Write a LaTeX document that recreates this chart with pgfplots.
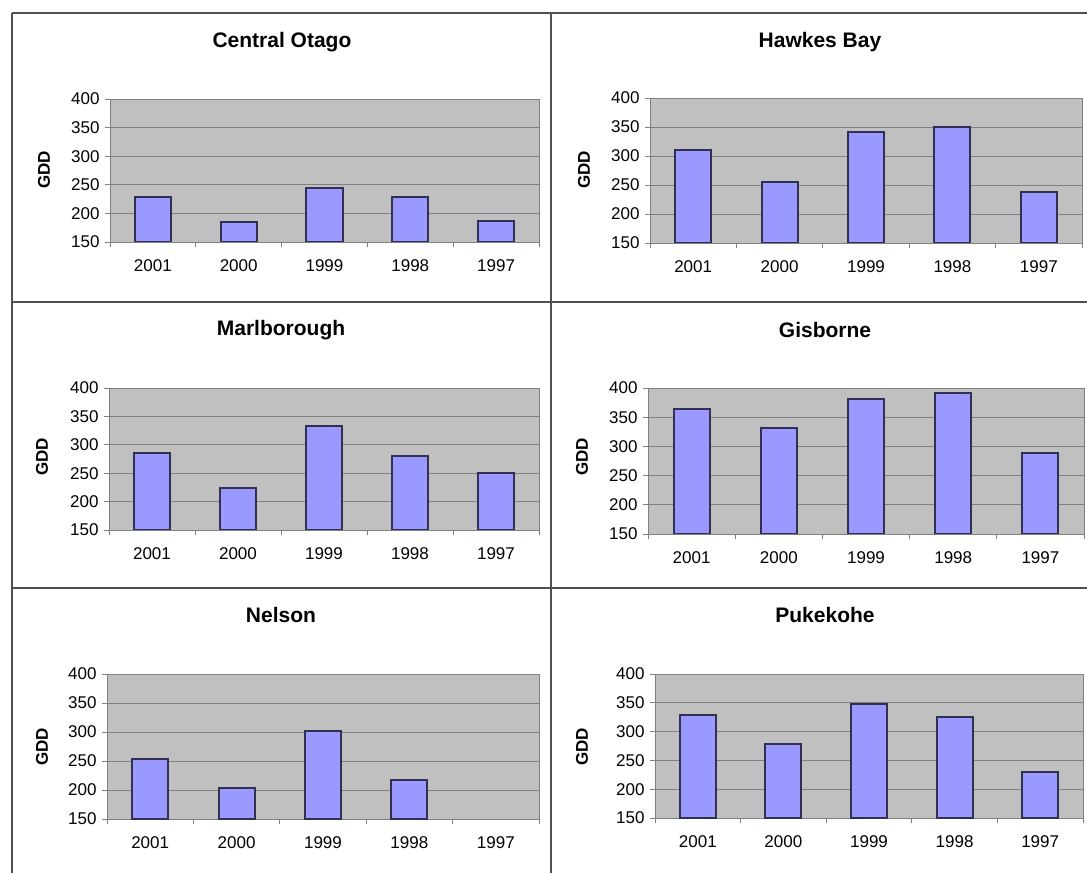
\documentclass[border=0pt]{standalone}
\usepackage{fontspec}
\setmainfont{Liberation Sans}
\usepackage{pgfplots}
\pgfplotsset{compat=1.18}

\definecolor{barfill}{HTML}{9999FF}
\definecolor{baredge}{HTML}{303050}
\definecolor{plotbg}{HTML}{C0C0C0}
\definecolor{gridc}{HTML}{808080}
\definecolor{framec}{HTML}{505050}

\pgfplotsset{
  panel/.style={
    scale only axis,
    anchor=south west,
    ymin=150, ymax=400,
    ytick={150,200,...,400},
    xmin=-0.5, xmax=4.5,
    xtick={0,...,4},
    xticklabels={2001,2000,1999,1998,1997},
    minor xtick={-0.5,0.5,...,4.5},
    major x tick style={draw=none},
    tick align=outside,
    xtick pos=bottom, ytick pos=left,
    major tick length=5pt, minor tick length=5pt,
    ymajorgrids,
    grid style={gridc, line width=0.8pt},
    axis background/.style={fill=plotbg},
    axis line style={gridc, line width=0.8pt},
    every tick/.style={gridc, line width=0.8pt},
    ybar, bar width=36pt,
    tick label style={font=\fontsize{17}{19}\selectfont},
    xticklabel style={yshift=-9pt},
    yticklabel style={xshift=-2pt},
    /pgf/number format/assume math mode=true,
  },
  bars/.style={fill=barfill, draw=baredge, line width=2pt},
}
\tikzset{
  ttl/.style={font=\bfseries\fontsize{21}{24}\selectfont},
  gdd/.style={rotate=90, font=\bfseries\fontsize{17}{19}\selectfont},
}

\begin{document}
\begin{tikzpicture}[x=1pt,y=1pt]
\path[use as bounding box, fill=white] (0,0) rectangle (1087,873);

% Central Otago
\begin{axis}[panel, at={(110pt,631pt)}, width=429pt, height=143pt]
\addplot[bars] coordinates {(0,229)(1,185)(2,244)(3,229)(4,187)};
\end{axis}
% Hawkes Bay
\begin{axis}[panel, at={(650pt,630pt)}, width=432pt, height=145pt]
\addplot[bars] coordinates {(0,310)(1,256)(2,342)(3,350)(4,238)};
\end{axis}
% Marlborough
\begin{axis}[panel, at={(109pt,343pt)}, width=430pt, height=142pt]
\addplot[bars] coordinates {(0,286)(1,224)(2,333)(3,281)(4,250)};
\end{axis}
% Gisborne
\begin{axis}[panel, at={(648pt,339pt)}, width=436pt, height=146pt]
\addplot[bars] coordinates {(0,364)(1,332)(2,382)(3,391)(4,289)};
\end{axis}
% Nelson
\begin{axis}[panel, at={(107pt,54pt)}, width=432pt, height=145pt]
\addplot[bars] coordinates {(0,253)(1,204)(2,301)(3,217)};
\end{axis}
% Pukekohe
\begin{axis}[panel, at={(655pt,55pt)}, width=428pt, height=144pt]
\addplot[bars] coordinates {(0,328)(1,278)(2,348)(3,326)(4,230)};
\end{axis}

\node[ttl] at (282,831) {Central Otago};
\node[ttl] at (820,831) {Hawkes Bay};
\node[ttl] at (281,543) {Marlborough};
\node[ttl] at (825,543) {Gisborne};
\node[ttl] at (281,258) {Nelson};
\node[ttl] at (825,258) {Pukekohe};

\node[gdd] at (44,703) {GDD};
\node[gdd] at (584,703) {GDD};
\node[gdd] at (42,416) {GDD};
\node[gdd] at (582,416) {GDD};
\node[gdd] at (42,126) {GDD};
\node[gdd] at (582,126) {GDD};

\draw[framec, line width=1.3pt] (12,860) -- (1087,860);
\draw[framec, line width=1.3pt] (12,860) -- (12,0);
\draw[framec, line width=1.3pt] (551,860) -- (551,0);
\draw[framec, line width=1.3pt] (12,571) -- (1087,571);
\draw[framec, line width=1.3pt] (12,285) -- (1087,285);
\end{tikzpicture}
\end{document}
